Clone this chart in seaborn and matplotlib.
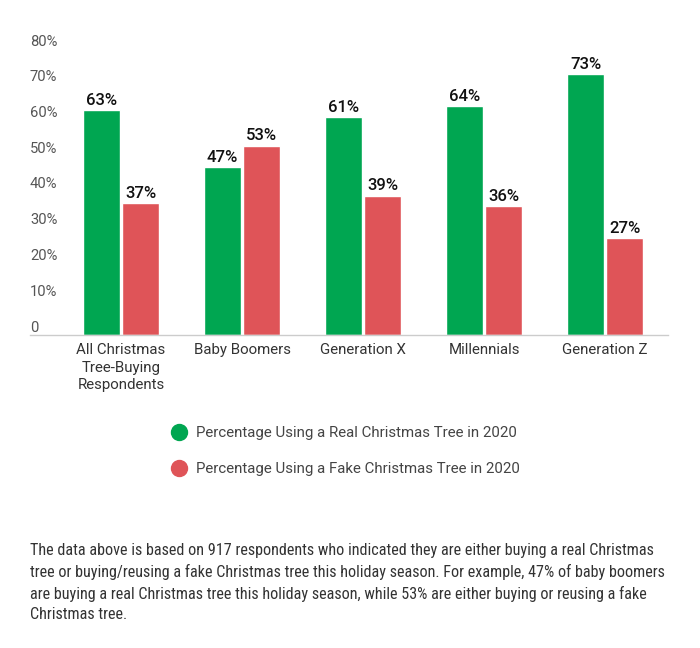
import matplotlib
matplotlib.use("Agg")
import matplotlib.pyplot as plt
import matplotlib.transforms as mtransforms
from matplotlib.lines import Line2D
import seaborn as sns
import pandas as pd

categories = ["All Christmas\nTree-Buying\nRespondents", "Baby Boomers", "Generation X", "Millennials", "Generation Z"]
real_tree = [63, 47, 61, 64, 73]
fake_tree = [37, 53, 39, 36, 27]
series_names = ["Percentage Using a Real Christmas Tree in 2020", "Percentage Using a Fake Christmas Tree in 2020"]
y_ticks = [0, 10, 20, 30, 40, 50, 60, 70, 80]
y_tick_labels = ["0", "10%", "20%", "30%", "40%", "50%", "60%", "70%", "80%"]
footnote = ("The data above is based on 917 respondents who indicated they are either buying a real Christmas\n"
            "tree or buying/reusing a fake Christmas tree this holiday season. For example, 47% of baby boomers\n"
            "are buying a real Christmas tree this holiday season, while 53% are either buying or reusing a fake\n"
            "Christmas tree.")

colors = ["#00A651", "#DF5458"]

df = pd.DataFrame({
    "category": categories * 2,
    "value": real_tree + fake_tree,
    "series": [series_names[0]] * len(categories) + [series_names[1]] * len(categories),
})

sns.set_theme(style="white")
plt.rcParams["font.family"] = ["Roboto", "DejaVu Sans"]

W, H = 700, 648
fig = plt.figure(figsize=(W / 100, H / 100), dpi=100)
ax = fig.add_axes([30 / W, 1 - 335 / H, (668 - 30) / W, (335 - 49) / H])

sns.barplot(data=df, x="category", y="value", hue="series", palette=colors,
            width=0.645, gap=0.05, ax=ax, legend=False, saturation=1)

ax.set_xlim(-0.752, 4.52)
ax.set_ylim(0, 80)
for s in ["top", "right", "left"]:
    ax.spines[s].set_visible(False)
ax.spines["bottom"].set_color("#cccccc")
ax.spines["bottom"].set_linewidth(1)
ax.set_xlabel("")
ax.set_ylabel("")

ax.set_yticks(y_ticks)
ax.set_yticklabels(y_tick_labels)
ax.tick_params(axis="y", length=0, pad=0, labelsize=10.6, labelcolor="#555555")
offset = mtransforms.ScaledTranslation(0, 9 / 100, fig.dpi_scale_trans)
for lab in ax.get_yticklabels():
    lab.set_horizontalalignment("left")
    lab.set_transform(lab.get_transform() + offset)

ax.tick_params(axis="x", length=0, pad=6, labelsize=10.8, labelcolor="#333333")
for lab in ax.get_xticklabels():
    lab.set_linespacing(1.3)

for cont in ax.containers:
    ax.bar_label(cont, labels=[f"{int(v)}%" for v in cont.datavalues], padding=1.5,
                 fontsize=12, fontweight="medium", color="#111111")

handles = [Line2D([0], [0], marker="o", linestyle="none", markersize=11.5,
                  markerfacecolor=c, markeredgecolor=c) for c in colors]
fig.legend(handles, series_names, loc="center left", bbox_to_anchor=(164 / W, 1 - 451 / H),
           frameon=False, fontsize=10.8, labelcolor="#444444", labelspacing=1.45,
           handletextpad=0.6, handlelength=1.0, borderpad=0)

fig.text(30 / W, 1 - 543 / H, footnote, ha="left", va="top", fontsize=11.6,
         color="#333333", linespacing=1.45,
         family=["Liberation Sans Narrow", "Roboto Condensed", "Roboto", "DejaVu Sans"])

fig.savefig("out.png", dpi=100)
